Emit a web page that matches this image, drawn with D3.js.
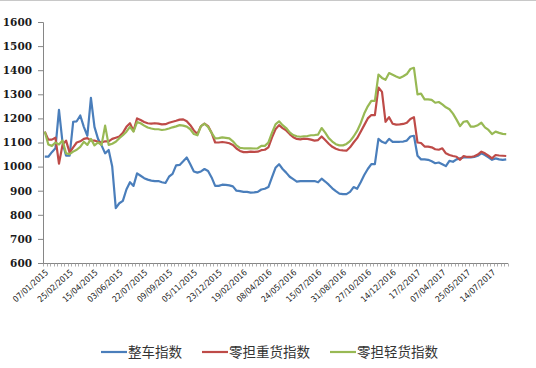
<!DOCTYPE html>
<html><head><meta charset="utf-8">
<script src="https://cdn.jsdelivr.net/npm/d3@7"></script>
<style>body{margin:0;background:#fff;}svg{display:block;}</style>
</head><body>
<svg id="chart" width="536" height="368"></svg>
<script>
const tickLabels = ["07/01/2015","25/02/2015","15/04/2015","03/06/2015","22/07/2015","09/09/2015","05/11/2015","23/12/2015","19/02/2016","08/04/2016","24/05/2016","15/07/2016","31/08/2016","27/10/2016","14/12/2016","17/2/2017","07/04/2017","25/05/2017","14/07/2017"];
const yTicks = [600,700,800,900,1000,1100,1200,1300,1400,1500,1600];
const seriesNames = ["整车指数","零担重货指数","零担轻货指数"];
const seriesColors = ["#4a7ebb","#be4b48","#98b954"];

const truckIndex = [1041,1041,1060,1076,1235,1100,1045,1045,1186,1188,1212,1165,1128,1285,1165,1115,1088,1055,1069,1000,
828,848,858,905,935,920,972,962,952,946,942,940,940,935,932,958,970,1005,1007,1022,
1038,1010,980,975,980,990,982,955,920,920,925,924,922,918,900,898,895,895,892,893,
895,905,908,915,955,995,1010,990,975,958,948,938,940,940,940,940,940,935,950,938,
925,910,898,888,886,886,895,915,908,935,965,990,1010,1010,1115,1103,1097,1115,1103,1103,
1103,1104,1108,1125,1128,1045,1030,1030,1028,1022,1014,1017,1010,1002,1024,1020,1030,1034,1038,1038,
1038,1040,1045,1055,1048,1038,1028,1034,1030,1028,1030];

const heavyIndex = [1145,1112,1112,1120,1012,1090,1108,1058,1080,1100,1105,1115,1118,1108,1108,1103,1100,1105,1105,1115,
1120,1125,1140,1165,1180,1148,1200,1193,1185,1180,1178,1180,1178,1175,1176,1182,1186,1190,1195,1196,
1188,1172,1150,1135,1168,1178,1168,1140,1100,1100,1102,1100,1097,1090,1075,1065,1060,1060,1062,1061,
1062,1068,1070,1080,1120,1155,1172,1160,1150,1135,1122,1115,1113,1116,1115,1112,1108,1110,1125,1110,
1095,1082,1074,1069,1067,1066,1080,1100,1118,1145,1172,1200,1214,1214,1328,1310,1186,1205,1178,1174,
1175,1177,1182,1198,1205,1100,1098,1083,1083,1080,1072,1070,1076,1055,1048,1044,1041,1028,1044,1040,
1040,1043,1050,1062,1055,1045,1034,1048,1046,1045,1044];

const lightIndex = [1145,1092,1086,1100,1092,1108,1055,1052,1062,1070,1082,1103,1090,1115,1088,1100,1090,1170,1090,1095,
1103,1118,1130,1145,1165,1145,1185,1180,1170,1162,1158,1155,1155,1152,1154,1158,1163,1167,1172,1170,
1166,1155,1135,1130,1168,1178,1165,1140,1117,1118,1121,1119,1117,1105,1088,1078,1076,1076,1076,1075,
1076,1086,1086,1100,1140,1175,1188,1172,1160,1142,1131,1126,1124,1126,1127,1130,1131,1133,1160,1141,
1118,1104,1093,1088,1088,1094,1106,1125,1148,1180,1220,1250,1273,1273,1382,1368,1360,1388,1381,1374,
1368,1375,1384,1405,1410,1300,1303,1279,1279,1277,1265,1268,1258,1246,1238,1220,1195,1168,1186,1189,
1166,1166,1172,1182,1163,1152,1135,1145,1140,1136,1135];

const series = [truckIndex, heavyIndex, lightIndex];
const labelStep = 7;

const svg = d3.select("#chart");
const mLeft = 43, mRight = 508, mTop = 22, mBottom = 263;
const cats = d3.range(truckIndex.length);
const x = d3.scaleBand().domain(cats).range([mLeft, mRight]).paddingInner(0).paddingOuter(0);
const y = d3.scaleLinear().domain([600, 1600]).range([mBottom, mTop]);
const cx = i => x(i) + x.bandwidth() / 2;

// top border
svg.append("line").attr("x1", 0).attr("x2", 536).attr("y1", 0.5).attr("y2", 0.5)
  .attr("stroke", "#c8c8c8").attr("stroke-width", 1);

// y axis
const yAxis = svg.append("g").attr("transform", `translate(${mLeft},0)`)
  .call(d3.axisLeft(y).tickValues(yTicks).tickSize(5).tickPadding(6).tickFormat(d3.format("d")));
yAxis.select(".domain").attr("stroke", "#868686");
yAxis.selectAll(".tick line").attr("stroke", "#868686");
yAxis.selectAll("text").attr("font-family", "'DejaVu Serif', serif").attr("font-weight", "bold")
  .attr("font-size", "10.5px").attr("fill", "#1a1a1a");

// x axis with minor ticks at band edges
const xAxisG = svg.append("g").attr("transform", `translate(0,${mBottom})`);
xAxisG.append("line").attr("x1", mLeft).attr("x2", mRight).attr("y1", 0.5).attr("y2", 0.5)
  .attr("stroke", "#868686");
xAxisG.selectAll("line.minor").data(d3.range(cats.length + 1)).join("line").attr("class", "minor")
  .attr("x1", i => Math.round(mLeft + i * x.bandwidth()) + 0.5)
  .attr("x2", i => Math.round(mLeft + i * x.bandwidth()) + 0.5)
  .attr("y1", 0.5).attr("y2", 3.5).attr("stroke", "#9a9a9a").attr("stroke-width", 0.8);

const labelIdx = tickLabels.map((d, k) => k * labelStep);
xAxisG.selectAll("text.xl").data(tickLabels).join("text").attr("class", "xl")
  .attr("transform", (d, k) => `translate(${cx(labelIdx[k]) + 2},${8}) rotate(-42)`)
  .attr("text-anchor", "end").attr("dy", "0.35em")
  .attr("font-family", "'DejaVu Sans Condensed', 'DejaVu Sans', sans-serif")
  .attr("font-size", "8.5px").attr("fill", "#222").text(d => d);

// lines
const line = d3.line().x((d, i) => cx(i)).y(d => y(d));
svg.selectAll("path.series").data(series).join("path").attr("class", "series")
  .attr("d", line).attr("fill", "none")
  .attr("stroke", (d, i) => seriesColors[i]).attr("stroke-width", 2.2)
  .attr("stroke-linejoin", "round");

// legend
const legendX = [101, 202, 330];
const lg = svg.selectAll("g.legend").data(seriesNames).join("g").attr("class", "legend")
  .attr("transform", (d, i) => `translate(${legendX[i]},352)`);
lg.append("line").attr("x1", 0).attr("x2", 26).attr("y1", 0).attr("y2", 0)
  .attr("stroke", (d, i) => seriesColors[i]).attr("stroke-width", 2.2);
lg.append("text").attr("x", 27).attr("y", 0).attr("dy", "0.36em")
  .attr("font-family", "'Noto Sans CJK SC', sans-serif").attr("font-size", "13.5px")
  .attr("fill", "#333").text(d => d);
</script>
</body></html>
